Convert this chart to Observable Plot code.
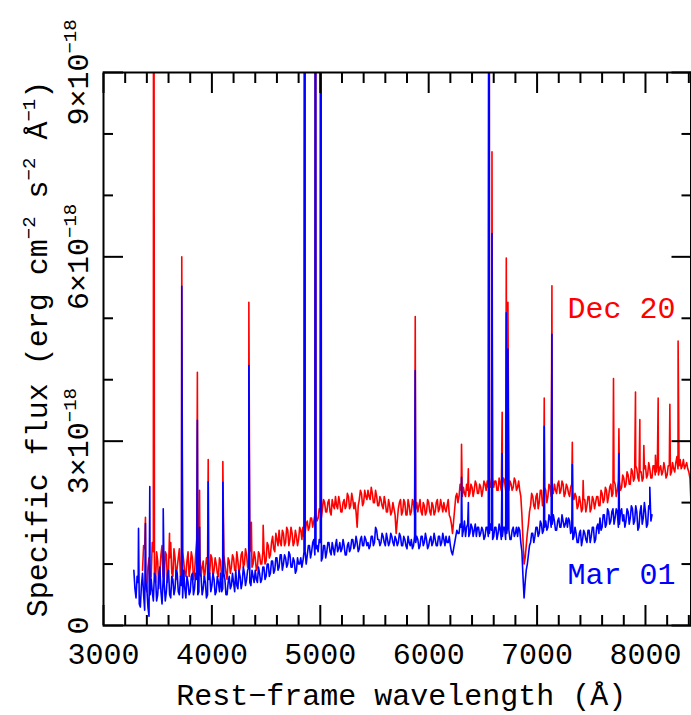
<!DOCTYPE html>
<html>
<head>
<meta charset="utf-8">
<script src="https://cdn.jsdelivr.net/npm/d3@7"></script>
<script src="https://cdn.jsdelivr.net/npm/@observablehq/plot@0.6"></script>
<style>
  html, body { margin: 0; padding: 0; background: #fff; }
  svg { display: block; }
</style>
</head>
<body>
<div id="chart"></div>
<script>
// ---- Data (flux in units of 1e-18 erg cm^-2 s^-1 Å^-1) ----
const xMajor = [3000, 4000, 5000, 6000, 7000, 8000];
const xMinor = [3200, 3400, 3600, 3800, 4200, 4400, 4600, 4800, 5200, 5400, 5600, 5800,
                6200, 6400, 6600, 6800, 7200, 7400, 7600, 7800, 8200, 8400];
const yMajor = [0, 3, 6, 9];
const yMinor = [1, 2, 4, 5, 7, 8];
const xTickLabels = ["3000", "4000", "5000", "6000", "7000", "8000"];
const yTickLabels = ["0", "3×10^{−18}", "6×10^{−18}", "9×10^{−18}"];
const xTitle = "Rest−frame wavelength (Å)";
const yTitle = "Specific flux (erg cm^{−2} s^{−2} Å^{−1})";
const seriesNames = ["Dec 20", "Mar 01"];

// Dec 20 (red): samples every 20 Å from redStart, plus the in-between samples (redStart+10, every 20 Å)
const redStart = 3360, redStep = 20;
const redFlux = [
  0.9,1.25,0.55,1.1,0.8,1.2,0.7,1.05,0.85,1.3,
  0.75,1.15,0.9,1.35,0.8,1.1,0.95,1.25,0.9,1.05,
  0.8,1.2,0.95,1.1,0.85,1.4,1.0,0.8,1.05,0.9,
  1.0,0.85,1.1,0.9,1.0,0.8,1.05,0.9,1.0,0.75,
  1.05,0.95,1.1,0.9,1.05,0.95,1.2,1.0,1.15,1.05,
  1.3,1.0,1.1,0.95,1.15,1.0,1.25,1.05,1.3,1.15,
  1.45,1.2,1.4,1.55,1.3,1.5,1.35,1.55,1.4,1.5,
  1.35,1.45,1.4,1.55,1.6,1.5,1.7,1.6,1.75,1.7,
  1.8,1.75,1.85,1.9,2.0,1.85,2.05,1.8,1.95,2.1,
  1.9,2.0,1.85,2.05,1.95,2.1,1.95,2.05,2.0,1.6,
  2.05,2.15,2.0,2.1,2.2,2.05,2.15,2.0,2.1,1.95,
  2.05,1.9,2.0,1.85,1.95,1.85,1.9,1.5,1.9,2.05,
  1.85,2.0,1.8,1.95,1.85,2.0,1.9,1.85,2.05,1.8,
  1.95,1.85,2.0,1.8,1.95,1.85,2.05,1.9,1.95,2.0,
  1.85,2.05,1.75,1.5,1.9,2.15,2.1,2.2,2.25,2.1,
  2.2,2.15,2.25,2.2,2.3,2.15,2.25,2.2,2.3,2.35,
  2.4,2.3,2.25,2.35,2.2,2.3,2.25,2.35,2.3,2.2,
  2.3,2.25,2.35,2.25,2.2,1.8,1.0,1.3,1.65,1.95,
  2.1,1.9,2.15,2.0,2.2,2.05,2.2,2.1,2.25,2.2,
  2.3,2.15,2.35,2.2,2.3,2.15,2.25,2.1,2.3,2.05,
  2.1,1.95,2.0,1.9,2.05,1.95,2.1,1.9,2.05,2.0,
  2.1,1.95,2.15,2.05,2.2,2.1,2.3,2.15,2.3,2.2,
  2.35,2.25,2.4,2.3,2.45,2.3,2.5,2.4,2.55,2.35,
  2.5,2.4,2.6,2.45,2.55,2.4,2.6,2.5,2.45,2.6,
  2.5,2.55,2.45,2.6,2.5,2.55,2.65,2.55,2.7,2.6,
  2.55,2.65,2.5,2.0
];
const redFluxMid = [
  1.3,0.6,0.95,0.65,1.35,0.85,1.2,0.6,1.15,0.8,
  1.2,0.7,1.1,0.85,1.25,0.75,1.1,0.8,1.2,0.85,
  1.05,0.8,1.2,0.75,1.15,0.85,1.1,0.95,0.75,1.1,
  0.8,1.15,0.8,1.1,0.85,1.1,0.75,1.15,0.85,1.1,
  0.85,1.15,0.9,1.2,0.85,1.15,0.95,1.25,0.95,1.2,
  0.95,1.2,0.9,1.2,1.0,1.2,1.0,1.35,1.1,1.35,
  1.25,1.5,1.3,1.35,1.55,1.3,1.6,1.3,1.6,1.3,
  1.55,1.3,1.6,1.4,1.45,1.65,1.55,1.75,1.6,1.8,
  1.7,1.9,1.75,2.05,1.85,2.0,1.85,2.05,1.9,1.95,
  2.1,1.85,2.0,1.9,2.15,1.9,2.15,1.9,1.85,1.95,
  2.2,1.95,2.2,2.05,2.1,2.25,2.0,2.2,1.95,2.1,
  1.95,2.1,1.85,2.05,1.8,2.0,1.8,1.7,2.0,1.8,
  2.05,1.8,2.05,1.8,2.05,1.8,2.0,1.95,1.85,2.0,
  1.8,2.05,1.85,2.0,1.8,2.0,1.85,2.05,1.85,1.9,
  1.95,1.8,1.65,1.7,2.1,2.0,2.3,2.1,2.15,2.3,
  2.1,2.3,2.1,2.35,2.15,2.3,2.1,2.35,2.2,2.25,
  2.25,2.4,2.35,2.2,2.4,2.2,2.4,2.2,2.15,2.35,
  2.2,2.4,2.2,2.35,2.1,1.4,1.1,1.5,1.85,2.15,
  1.95,2.1,1.9,2.2,1.95,2.25,2.0,2.3,2.1,2.15,
  2.2,2.3,2.15,2.35,2.1,2.3,2.15,2.25,2.15,2.15,
  1.9,2.1,1.85,2.05,1.85,2.1,1.85,2.1,1.9,2.1,
  1.95,2.2,2.0,2.25,2.0,2.25,2.1,2.35,2.1,2.35,
  2.2,2.45,2.25,2.5,2.3,2.55,2.35,2.6,2.4,2.5,
  2.35,2.55,2.4,2.65,2.4,2.6,2.45,2.65,2.55,2.45,
  2.65,2.4,2.6,2.45,2.65,2.5,2.75,2.6,2.55,2.7,
  2.6,2.55,2.4
];

// Mar 01 (blue): samples every 20 Å from blueStart, plus the in-between samples
const blueStart = 3280, blueStep = 20;
const blueFlux = [
  0.9,0.45,0.7,0.3,0.85,0.25,0.6,0.15,0.75,0.4,
  0.8,0.5,0.95,0.35,0.7,0.55,0.9,0.45,0.75,0.6,
  0.85,0.5,0.65,0.9,0.45,0.7,0.55,0.85,0.6,0.75,
  0.55,0.8,0.6,0.7,0.5,0.85,0.65,0.75,0.55,0.7,
  0.85,0.6,0.75,0.5,0.8,0.65,0.7,0.9,0.6,0.8,
  0.7,0.85,0.75,0.95,0.65,0.8,0.9,0.7,0.85,0.75,
  0.95,0.8,1.0,0.85,1.05,0.9,1.1,0.95,1.15,1.0,
  1.1,1.0,1.15,0.95,1.05,0.9,1.0,1.1,1.05,1.2,
  1.15,1.3,1.2,1.4,1.25,1.2,1.35,1.1,1.3,1.2,
  1.35,1.15,1.25,1.3,1.2,1.35,1.25,1.3,1.15,1.35,
  1.25,1.4,1.3,1.35,1.25,1.45,1.3,1.4,1.35,1.3,
  1.45,1.35,1.55,1.4,1.35,1.45,1.3,1.4,1.35,1.45,
  1.3,1.4,1.35,1.45,1.3,1.4,1.25,1.35,1.4,1.3,
  1.35,1.4,1.3,1.45,1.35,1.4,1.3,1.45,1.35,1.4,
  1.3,1.45,1.35,1.4,1.45,1.35,1.3,1.15,1.35,1.55,
  1.5,1.6,1.55,1.45,1.65,1.5,1.6,1.55,1.45,1.6,
  1.5,1.55,1.45,1.6,1.5,1.55,1.45,1.6,1.5,1.55,
  1.45,1.6,1.5,1.55,1.4,1.6,1.5,1.45,1.55,1.2,
  0.45,0.9,1.15,1.35,1.5,1.45,1.6,1.5,1.65,1.55,
  1.7,1.6,1.75,1.65,1.7,1.55,1.75,1.6,1.7,1.65,
  1.6,1.7,1.55,1.45,1.5,1.35,1.55,1.4,1.5,1.35,
  1.55,1.45,1.6,1.4,1.65,1.75,1.6,1.8,1.65,1.85,
  1.7,1.9,1.75,1.85,1.65,1.9,1.8,1.7,1.85,1.75,
  1.9,1.7,1.85,1.6,1.95,1.75,1.85,1.65,1.9,1.8
];
const blueFluxMid = [
  0.6,0.8,0.35,0.65,0.5,0.7,0.3,0.5,0.55,0.85,
  0.4,0.8,0.55,0.75,0.4,0.85,0.5,0.8,0.5,0.9,
  0.55,0.8,0.45,0.6,0.8,0.5,0.8,0.5,0.85,0.5,
  0.85,0.5,0.8,0.45,0.75,0.55,0.85,0.5,0.8,0.55,
  0.55,0.85,0.5,0.7,0.6,0.85,0.55,0.65,0.9,0.6,
  0.95,0.65,0.9,0.7,0.9,0.7,0.75,0.95,0.7,0.95,
  0.75,1.0,0.8,1.05,0.85,1.1,0.9,1.15,0.9,1.15,
  0.95,1.2,0.95,1.1,0.85,1.1,1.0,0.95,1.2,1.0,
  1.3,1.1,1.35,1.15,1.3,1.4,1.05,1.3,1.1,1.35,
  1.2,1.35,1.15,1.4,1.25,1.2,1.4,1.15,1.3,1.2,
  1.4,1.25,1.45,1.2,1.4,1.3,1.45,1.3,1.25,1.45,
  1.3,1.6,1.4,1.3,1.5,1.35,1.5,1.3,1.5,1.35,
  1.45,1.3,1.5,1.3,1.45,1.3,1.45,1.3,1.25,1.45,
  1.45,1.25,1.45,1.3,1.5,1.25,1.4,1.3,1.5,1.3,
  1.45,1.3,1.5,1.3,1.35,1.45,1.2,1.25,1.45,1.5,
  1.65,1.45,1.7,1.6,1.45,1.65,1.45,1.65,1.6,1.45,
  1.6,1.4,1.6,1.45,1.65,1.4,1.6,1.4,1.65,1.4,
  1.6,1.4,1.65,1.4,1.55,1.45,1.6,1.6,1.35,0.8,
  0.7,1.0,1.3,1.5,1.35,1.6,1.45,1.7,1.5,1.6,
  1.55,1.8,1.6,1.8,1.55,1.7,1.6,1.8,1.6,1.75,
  1.75,1.5,1.4,1.6,1.35,1.5,1.3,1.55,1.4,1.55,
  1.35,1.6,1.35,1.6,1.5,1.55,1.8,1.6,1.9,1.65,
  1.85,1.65,1.9,1.6,1.85,1.7,1.6,1.9,1.65,1.95,
  1.65,1.95,1.55,1.85,1.65,2.0,1.6,1.95,1.7
];

// emission lines: wavelength (Å) and peak flux in each epoch (null = not seen; >9 = off the top)
const lineWave = [3323,3387,3427,3462,3551,3609,3722,3866,3886,3966,4101,4341,4364,4473,4858,4956,5004,
                  5876,6303,6366,6558,6584,6678,6716,6731,7066,7137,7325,7425,7705,7755,7908,7948,7985,
                  8040,8092,8117,8225,8301];
const lineRed  = [null,1.76,null,20,null,1.5,6.0,4.12,2.2,2.7,2.67,5.26,1.68,1.63,20,20,20,
                  5.03,2.95,2.55,20,7.71,3.47,5.98,5.26,3.7,5.53,2.98,2.36,4.02,3.2,3.8,3.35,2.93,
                  null,2.77,3.7,3.6,4.63];
const lineBlue = [1.58,1.66,2.26,null,1.9,null,5.52,3.34,1.6,2.34,2.33,4.23,null,null,20,20,20,
                  4.15,2.41,2.0,20,6.38,2.8,5.09,4.5,3.24,4.74,2.62,null,null,2.8,null,null,null,
                  2.25,null,null,null,null];

function buildSeries(start, step, flux, fluxMid, peaks) {
  const pts = flux.map((f, i) => ({w: start + i * step, f}))
    .concat(fluxMid.map((f, i) => ({w: start + step / 2 + i * step, f})));
  const ws = pts.map((p) => p.w);
  const lo = Math.min(...ws), hi = Math.max(...ws);
  lineWave.forEach((w, i) => {
    if (peaks[i] != null && w > lo && w < hi) pts.push({w, f: peaks[i]});
  });
  pts.sort((a, b) => a.w - b.w);
  return pts;
}
const red = buildSeries(redStart, redStep, redFlux, redFluxMid, lineRed);
const blue = buildSeries(blueStart, blueStep, blueFlux, blueFluxMid, lineBlue);

const FONT = "'Liberation Mono', 'DejaVu Sans Mono', monospace";
const tickOpts = {tickFormat: () => "", label: null, strokeWidth: 2, stroke: "black"};

const chart = Plot.plot({
  width: 691,
  height: 715,
  marginLeft: 103,
  marginRight: 0.5,
  marginTop: 72,
  marginBottom: 90,
  style: {fontFamily: FONT, fontSize: "30px", color: "black", background: "white"},
  x: {domain: [3000, 8420], label: null},
  y: {domain: [0, 9], label: null},
  marks: [
    Plot.line(red, {x: "w", y: "f", stroke: "#ff0000", strokeWidth: 1.6, clip: true}),
    Plot.line(blue, {x: "w", y: "f", stroke: "#0000ff", strokeWidth: 1.6, clip: true}),
    Plot.frame({stroke: "black", strokeWidth: 2}),
    Plot.axisX({anchor: "bottom", ticks: xMinor, tickSize: -10, ...tickOpts}),
    Plot.axisX({anchor: "bottom", ticks: xMajor, tickSize: -20, ...tickOpts}),
    Plot.axisX({anchor: "top", ticks: xMinor, tickSize: -10, ...tickOpts}),
    Plot.axisX({anchor: "top", ticks: xMajor, tickSize: -20, ...tickOpts}),
    Plot.axisY({anchor: "left", ticks: yMinor, tickSize: -10, ...tickOpts}),
    Plot.axisY({anchor: "left", ticks: yMajor, tickSize: -20, ...tickOpts}),
    Plot.axisY({anchor: "right", ticks: yMinor, tickSize: -10, ...tickOpts}),
    Plot.axisY({anchor: "right", ticks: yMajor, tickSize: -20, ...tickOpts}),
    Plot.axisX({anchor: "bottom", ticks: xMajor, tickSize: 0, tickPadding: 17, label: null,
                tickFormat: (d) => xTickLabels[xMajor.indexOf(d)], fontSize: 30, fill: "black"}),
    Plot.text(yMajor, {y: (d) => d, text: (d, i) => yTickLabels[i], frameAnchor: "left", dx: -16,
                       rotate: -90, textAnchor: "middle", lineAnchor: "bottom", fontSize: 30, fill: "black"}),
    Plot.text([xTitle], {text: (d) => d, frameAnchor: "bottom", dy: 79, dx: 4, lineAnchor: "bottom",
                         fontSize: 30, fill: "black"}),
    Plot.text([yTitle], {text: (d) => d, frameAnchor: "left", dx: -57, rotate: -90, textAnchor: "middle",
                         lineAnchor: "bottom", fontSize: 30, fill: "black"}),
    Plot.text([seriesNames[0]], {text: (d) => d, frameAnchor: "top-right", dx: -15.5, dy: 235.5,
                                 textAnchor: "end", lineAnchor: "middle", fontSize: 30, fill: "#ff0000"}),
    Plot.text([seriesNames[1]], {text: (d) => d, frameAnchor: "top-right", dx: -15.5, dy: 502,
                                 textAnchor: "end", lineAnchor: "middle", fontSize: 30, fill: "#0000ff"})
  ]
});

// turn ^{...} into raised, smaller tspans
function supify(root) {
  const NS = "http://www.w3.org/2000/svg";
  root.querySelectorAll("text").forEach((t) => {
    const s = t.textContent;
    if (!s.includes("^{")) return;
    while (t.firstChild) t.removeChild(t.firstChild);
    const re = /\^\{([^}]*)\}/g;
    let last = 0, m, raised = false;
    const add = (str, sup) => {
      const ts = document.createElementNS(NS, "tspan");
      ts.textContent = str;
      if (sup) { ts.setAttribute("font-size", "19"); ts.setAttribute("dy", "-12"); }
      else if (raised) { ts.setAttribute("dy", "12"); }
      t.appendChild(ts);
      raised = sup;
    };
    while ((m = re.exec(s))) {
      if (m.index > last) add(s.slice(last, m.index), false);
      add(m[1], true);
      last = re.lastIndex;
    }
    if (last < s.length) add(s.slice(last), false);
  });
}
supify(chart);
document.getElementById("chart").appendChild(chart);
</script>
</body>
</html>
